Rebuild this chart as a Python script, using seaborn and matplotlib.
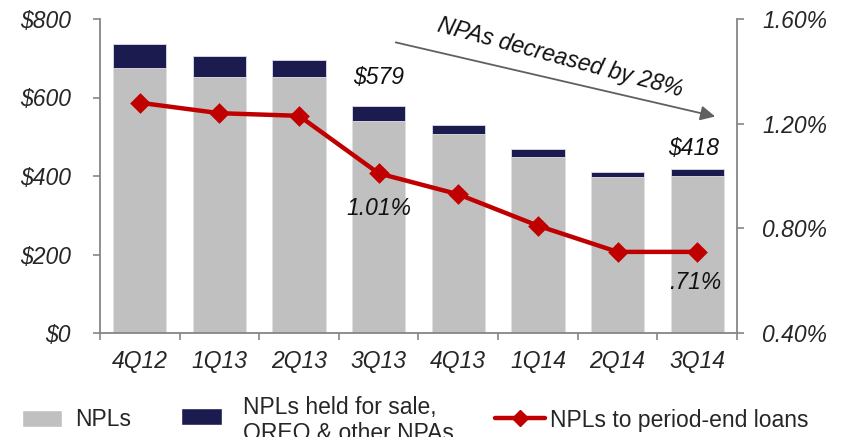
import numpy as np
import pandas as pd
import matplotlib
matplotlib.use("Agg")
import matplotlib.pyplot as plt
import seaborn as sns
from matplotlib.patches import Patch
from matplotlib.lines import Line2D
from matplotlib.ticker import FixedLocator

# data
quarters = ["4Q12", "1Q13", "2Q13", "3Q13", "4Q13", "1Q14", "2Q14", "3Q14"]
npls = [675, 652, 653, 541, 508, 449, 398, 400]
npls_other = [61, 54, 43, 38, 23, 21, 12, 18]
npl_ratio = [1.28, 1.24, 1.23, 1.01, 0.93, 0.81, 0.71, 0.71]

GRAY = "#C0C0C0"
NAVY = "#1B1B4F"
RED = "#C00000"
SPINE = "#868686"

sns.set_style("white")
plt.rcParams["font.family"] = ["Liberation Sans", "DejaVu Sans"]
FS = 16.5
PX = FS * 100 / 72  # font size in pixels

df = pd.DataFrame({"quarter": quarters, "npls": npls,
                   "total": np.array(npls) + np.array(npls_other),
                   "ratio": npl_ratio})

fig = plt.figure(figsize=(8.42, 4.37), dpi=100)
W, H = 842, 437
ax = fig.add_axes([100 / W, 1 - 333 / H, 637 / W, 314 / H])

# stacked bars: total (dark) behind, NPLs (gray) in front
sns.barplot(data=df, x="quarter", y="total", color=NAVY, saturation=1,
            width=0.67, ax=ax, edgecolor="#DDDDE8", linewidth=0.6)
sns.barplot(data=df, x="quarter", y="npls", color=GRAY, saturation=1,
            width=0.67, ax=ax, edgecolor="#E4E4E4", linewidth=0.6)
ax.set_xlim(-0.5, len(quarters) - 0.5)
ax.set_ylim(0, 800)
ax.set_yticks(range(0, 801, 200))
ax.set_yticklabels([f"${v}" for v in range(0, 801, 200)])
ax.set_xlabel("")
ax.set_ylabel("")

ax2 = ax.twinx()
sns.pointplot(data=df, x="quarter", y="ratio", color=RED, markers="D",
              markersize=8.5, linewidth=3.2, ax=ax2)
ax2.set_xlim(-0.5, len(quarters) - 0.5)
ax2.set_ylim(0.4, 1.6)
rt = [0.4, 0.8, 1.2, 1.6]
ax2.set_yticks(rt)
ax2.set_yticklabels([f"{v:.2f}%" for v in rt])
ax2.set_ylabel("")
ax2.set_xlabel("")

for a in (ax, ax2):
    for s in a.spines.values():
        s.set_color(SPINE)
        s.set_linewidth(1.3)
    a.spines["top"].set_visible(False)
ax.spines["right"].set_visible(False)
ax2.spines["left"].set_visible(False)
ax2.spines["bottom"].set_visible(False)

ax.tick_params(axis="y", direction="out", length=5, width=1.2, color=SPINE,
               pad=16, labelsize=FS, left=True)
ax2.tick_params(axis="y", direction="out", length=5, width=1.2, color=SPINE,
                pad=13, labelsize=FS, right=True)
ax.tick_params(axis="x", which="major", length=0, pad=12, labelsize=FS)
ax.xaxis.set_minor_locator(FixedLocator(np.arange(-0.5, len(quarters), 1.0)))
ax.tick_params(axis="x", which="minor", direction="out", length=5, width=1.2,
               color=SPINE, bottom=True)
for lab in ax.get_xticklabels() + ax.get_yticklabels() + ax2.get_yticklabels():
    lab.set_style("italic")

# annotations
tkw = dict(fontsize=FS, style="italic", ha="center", va="center", color="#111111")
ax.text(3, 650, f"${npls[3] + npls_other[3]}", **tkw)
ax.text(6.95, 471, f"${npls[7] + npls_other[7]}", **tkw)
ax2.text(3, 0.874, f"{npl_ratio[3]:.2f}%", **tkw)
ax2.text(6.97, 0.592, f"{npl_ratio[7]:.2f}%".lstrip("0"), **tkw)

ax.annotate("", xy=(7.26, 550), xytext=(3.18, 742),
            arrowprops=dict(arrowstyle="-|>", color="#606060", lw=1.3,
                            mutation_scale=22), annotation_clip=False)
ax.text(5.28, 702, "NPAs decreased by 28%", rotation=-15, fontsize=FS,
        style="italic", ha="center", va="center", color="#111111")

# legend, three separate pieces along the bottom
leg_kw = dict(frameon=False, fontsize=FS, borderpad=0, borderaxespad=0,
              loc="center left")
fig.legend([Patch(facecolor=GRAY)], ["NPLs"],
           bbox_to_anchor=(21.6 / W, 1 - 420 / H),
           handlelength=40 / PX, handletextpad=13.5 / PX, **leg_kw)
fig.legend([Patch(facecolor=NAVY)], [" "],
           bbox_to_anchor=(181 / W, 1 - 418 / H),
           handlelength=41 / PX, handletextpad=0.0, **leg_kw)
fig.text(243 / W, 1 - 396 / H, "NPLs held for sale,\nOREO & other NPAs",
         fontsize=FS, va="top", ha="left", linespacing=1.15)
fig.legend([Line2D([], [], color=RED, lw=3.2, marker="D", markersize=8.5)],
           ["NPLs to period-end loans"],
           bbox_to_anchor=(495 / W, 1 - 420 / H),
           handlelength=50 / PX, handletextpad=5 / PX, **leg_kw)

fig.savefig("out.png", dpi=100)
